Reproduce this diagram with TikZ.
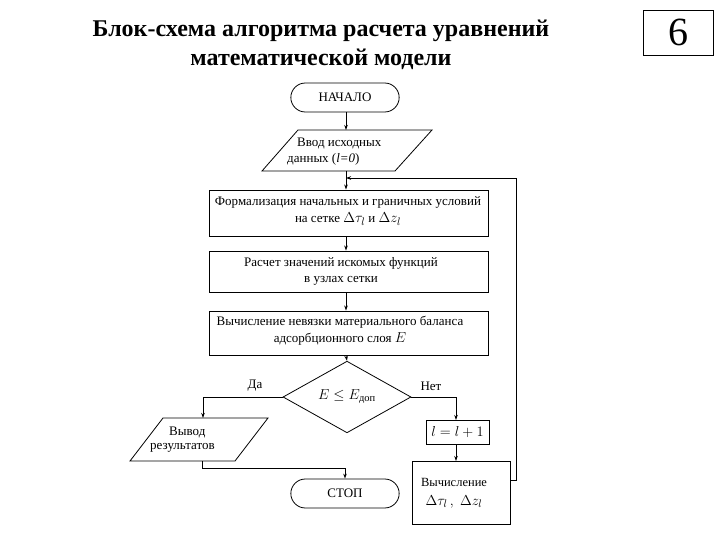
\documentclass[tikz,border=0pt]{standalone}
\usepackage{amsmath}
\usepackage{fontspec}
\setmainfont{Liberation Serif}
\usetikzlibrary{shapes.geometric,shapes.misc,arrows.meta}
\newcommand{\lgmath}[1]{{\fontsize{15}{15}\selectfont $#1$}}
\tikzset{
  blk/.style={draw, line width=0.9pt, inner sep=1pt, align=center, font=\fontsize{13}{16}\selectfont},
  term/.style={draw, line width=0.8pt, rounded rectangle, minimum width=115pt, minimum height=29pt, font=\fontsize{13}{15}\selectfont},
  conn/.style={-{Stealth[length=5pt,width=3.5pt]}, line width=0.8pt},
  plain/.style={line width=0.8pt},
  txt/.style={font=\fontsize{13}{15}\selectfont, inner sep=0pt},
  ttl/.style={font=\bfseries\fontsize{24}{28}\selectfont},
}
\begin{document}
\begin{tikzpicture}[x=1pt,y=-1pt]
\useasboundingbox (0,0) rectangle (720,540);
% title
\node[ttl] (t1) at (321,31) {Блок-схема алгоритма расчета уравнений};
\node[ttl] (t2) at (321,59) {математической модели};
\node[draw, line width=0.8pt, minimum width=70pt, minimum height=45pt, font=\fontsize{40}{40}\selectfont] (num) at (678,32.5) {6};
% start
\node[term] (start) at (345,97.5) {НАЧАЛО};
% input parallelogram
\draw[plain] (262,171) -- (298,130) -- (432,130) -- (395,171) -- cycle;
\coordinate (in1top) at (346,130);
\coordinate (in1bot) at (346,171);
\node[txt, anchor=west] (in1a) at (297,144) {Ввод исходных};
\node[txt, anchor=west] (in1b) at (287,159) {данных (\textit{l=0})};
% boxes
\node[blk, minimum width=279pt, minimum height=46pt] (b1) at (348.5,213) {};
\node[txt, align=center, font=\fontsize{13}{17}\selectfont] (b1t) at (348,211)
  {Формализация начальных и граничных условий\\на сетке \lgmath{\Delta\tau_l} и \lgmath{\Delta z_l}};
\node[blk, minimum width=279pt, minimum height=41pt] (b2) at (348.5,271.5) {};
\node[txt, align=center, font=\fontsize{13}{16}\selectfont] (b2t) at (341,271.5) {Расчет значений искомых функций\\в узлах сетки};
\node[blk, minimum width=279pt, minimum height=44pt] (b3) at (348.5,333) {};
\node[txt, align=center, font=\fontsize{13}{17}\selectfont] (b3t) at (340,331) {Вычисление невязки материального баланса\\адсорбционного слоя \lgmath{E}};
% decision
\node[draw, diamond, line width=0.8pt, minimum width=128pt, minimum height=50pt, inner sep=0pt, font=\fontsize{15}{16}\selectfont] (d) at (347,397) {$E \le E_{\text{доп}}$};
\node[txt] (yes) at (255,386) {Да};
\node[txt] (no) at (431,386) {Нет};
% output parallelogram
\draw[plain] (130,461) -- (163,418) -- (268,418) -- (235,461) -- cycle;
\coordinate (outtop) at (203,418);
\coordinate (outbot) at (202,461);
\node[txt, anchor=west] (out1) at (169,432) {Вывод};
\node[txt, anchor=west] (out2) at (150,448) {результатов};
% increment and calc
\node[blk, minimum width=63pt, minimum height=24pt, font=\fontsize{15}{15}\selectfont] (inc) at (457.5,432) {$l = l + 1$};
\node[blk, minimum width=98pt, minimum height=63pt] (calc) at (461,492.5) {};
\node[txt, align=center, font=\fontsize{12.5}{19}\selectfont] (calct) at (454,493) {Вычисление\\\lgmath{\Delta\tau_l\,,\ \Delta z_l}};
% stop
\node[term] (stop) at (345,493.5) {СТОП};
% connectors
\draw[conn] (start.south -| in1top) -- (in1top);
\draw[conn] (in1bot) -- (in1bot |- b1.north);
\coordinate (join) at (346,178);
\coordinate (fb) at (510,480);
\draw[conn] (fb) -- (516,480) |- (join);
\draw[conn] (in1bot |- b1.south) -- (in1bot |- b2.north);
\draw[conn] (in1bot |- b2.south) -- (in1bot |- b3.north);
\draw[conn] (in1bot |- b3.south) -- (d.north);
\draw[conn] (d.west) -| (outtop);
\draw[conn] (d.east) -| (456,420);
\draw[conn] (456,444) -- (456,461);
\draw[conn] (outbot) -- (202,468) -| (stop.north);
\end{tikzpicture}
\end{document}
